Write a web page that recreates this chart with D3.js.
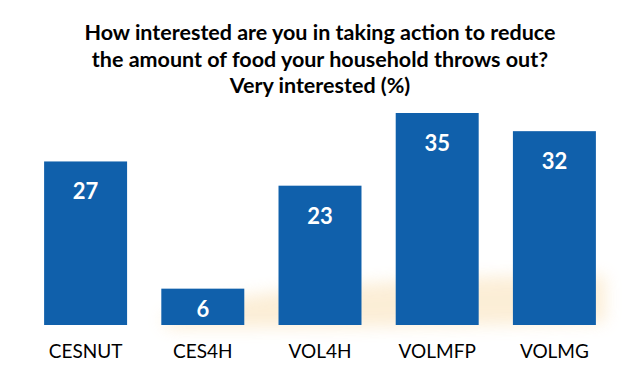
<!DOCTYPE html>
<html>
<head>
<meta charset="utf-8">
<script src="https://cdn.jsdelivr.net/npm/d3@7"></script>
<style>
  body { margin: 0; background: #fff; }
  text { font-family: Lato, "Open Sans", sans-serif; }
</style>
</head>
<body>
<div id="chart-area"></div>
<script>
const categories = ['CESNUT', 'CES4H', 'VOL4H', 'VOLMFP', 'VOLMG']
const values = [27, 6, 23, 35, 32]
const titleLines = [
    'How interested are you in taking action to reduce',
    'the amount of food your household throws out?',
    'Very interested (%)'
]

const WIDTH = 640
const HEIGHT = 384
const BASE = 325

const svg = d3.select('#chart-area')
.append('svg')
.attr('width', WIDTH)
.attr('height', HEIGHT)

// soft orange glow behind the bars
const defs = svg.append('defs')
defs.append('filter')
.attr('id', 'glow')
.attr('x', '-20%').attr('y', '-100%')
.attr('width', '140%').attr('height', '300%')
.append('feGaussianBlur')
.attr('stdDeviation', 8)

svg.append('path')
.attr('d', 'M160,318 C210,300 260,292 330,287 C420,279 520,274 605,276 L605,322 C500,326 300,328 170,328 Z')
.attr('fill', '#f6cf8c')
.attr('opacity', 0.35)
.attr('filter', 'url(#glow)')

const x = d3.scaleBand()
.domain(categories)
.range([27, 613])
.paddingInner(0.292)
.paddingOuter(0.146)

const y = d3.scaleLinear()
.domain([0, 35])
.range([BASE, 113])

const data = categories.map((c, i) => ({ name: c, value: values[i] }))

svg.selectAll('rect.bar')
.data(data)
.enter().append('rect')
.attr('class', 'bar')
.attr('x', d => x(d.name))
.attr('y', d => y(d.value))
.attr('width', x.bandwidth())
.attr('height', d => BASE - y(d.value))
.attr('fill', '#1060ab')

svg.selectAll('text.val')
.data(data)
.enter().append('text')
.attr('class', 'val')
.attr('x', d => x(d.name) + x.bandwidth() / 2)
.attr('y', d => d.value < 10 ? BASE - 8 : y(d.value) + 38)
.attr('text-anchor', 'middle')
.attr('fill', '#fff')
.attr('font-weight', 'bold')
.attr('font-size', '22px')
.text(d => d.value)

const xAxisCall = d3.axisBottom(x).tickSize(0).tickPadding(20)
const xAxis = svg.append('g')
.attr('class', 'x axis')
.attr('transform', `translate(0,${BASE})`)
.call(xAxisCall)
xAxis.select('.domain').remove()
xAxis.selectAll('text')
.attr('font-family', 'Lato, "Open Sans", sans-serif')
.attr('font-size', '19px')
.attr('fill', '#000')

svg.selectAll('text.title')
.data(titleLines)
.enter().append('text')
.attr('class', 'title')
.attr('x', 320)
.attr('y', (d, i) => 40 + i * 26.5)
.attr('text-anchor', 'middle')
.attr('font-weight', 'bold')
.attr('font-size', '21.5px')
.attr('fill', '#000')
.text(d => d)
</script>
</body>
</html>
